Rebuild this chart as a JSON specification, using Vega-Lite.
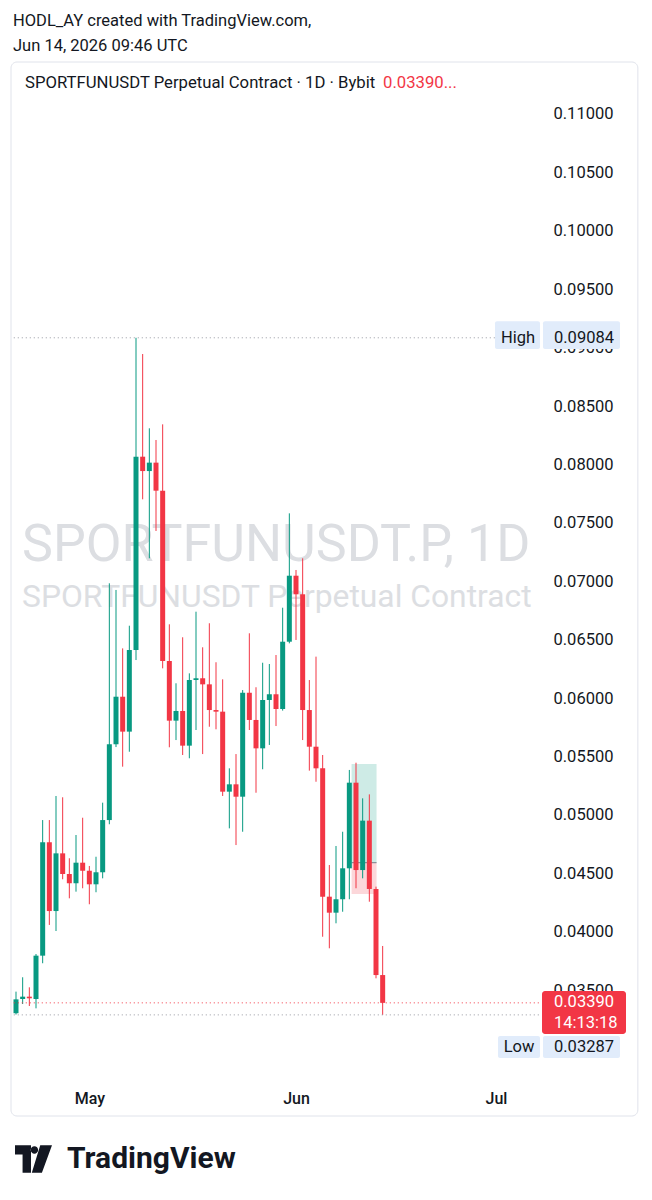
{
  "$schema": "https://vega.github.io/schema/vega-lite/v6.json",
  "width": 528,
  "height": 1018,
  "autosize": {"type": "none"},
  "padding": {"left": 12, "top": 62, "right": 112, "bottom": 120},
  "background": "#ffffff",
  "config": {"font": "Roboto", "view": {"stroke": null}},
  "title": {
    "text": ["HODL_AY created with TradingView.com,", "Jun 14, 2026 09:46 UTC"],
    "anchor": "start", "frame": "group", "fontSize": 16.5, "fontWeight": "normal",
    "color": "#131722", "lineHeight": 25, "offset": 9, "baseline": "bottom", "dx": 1, "dy": 18
  },
  "data": {
    "values": [
      {"t": "2026-04-20", "o": 0.03301, "h": 0.03486, "l": 0.0329, "c": 0.0342},
      {"t": "2026-04-21", "o": 0.03423, "h": 0.03609, "l": 0.0338, "c": 0.03443},
      {"t": "2026-04-22", "o": 0.03443, "h": 0.03523, "l": 0.03363, "c": 0.03429},
      {"t": "2026-04-23", "o": 0.03423, "h": 0.03808, "l": 0.03343, "c": 0.03794},
      {"t": "2026-04-24", "o": 0.03794, "h": 0.04955, "l": 0.03729, "c": 0.04765},
      {"t": "2026-04-25", "o": 0.04765, "h": 0.04955, "l": 0.04057, "c": 0.04176},
      {"t": "2026-04-26", "o": 0.04176, "h": 0.05161, "l": 0.04005, "c": 0.0467},
      {"t": "2026-04-27", "o": 0.0467, "h": 0.0515, "l": 0.04448, "c": 0.04493},
      {"t": "2026-04-28", "o": 0.04493, "h": 0.04628, "l": 0.04285, "c": 0.04414},
      {"t": "2026-04-29", "o": 0.04414, "h": 0.04827, "l": 0.04342, "c": 0.0459},
      {"t": "2026-04-30", "o": 0.0459, "h": 0.04975, "l": 0.04371, "c": 0.04521},
      {"t": "2026-05-01", "o": 0.04521, "h": 0.04562, "l": 0.04234, "c": 0.04405},
      {"t": "2026-05-02", "o": 0.04405, "h": 0.04641, "l": 0.04337, "c": 0.04508},
      {"t": "2026-05-03", "o": 0.04508, "h": 0.05104, "l": 0.04456, "c": 0.04955},
      {"t": "2026-05-04", "o": 0.04955, "h": 0.06982, "l": 0.04919, "c": 0.05604},
      {"t": "2026-05-05", "o": 0.05604, "h": 0.06925, "l": 0.0558, "c": 0.06011},
      {"t": "2026-05-06", "o": 0.06011, "h": 0.06425, "l": 0.05412, "c": 0.05712},
      {"t": "2026-05-07", "o": 0.05712, "h": 0.06619, "l": 0.0554, "c": 0.06411},
      {"t": "2026-05-08", "o": 0.06411, "h": 0.09084, "l": 0.06325, "c": 0.08066},
      {"t": "2026-05-09", "o": 0.08066, "h": 0.08945, "l": 0.07701, "c": 0.07943},
      {"t": "2026-05-10", "o": 0.07943, "h": 0.08309, "l": 0.07196, "c": 0.08015},
      {"t": "2026-05-11", "o": 0.08015, "h": 0.08209, "l": 0.0743, "c": 0.07775},
      {"t": "2026-05-12", "o": 0.07775, "h": 0.08343, "l": 0.06254, "c": 0.06317},
      {"t": "2026-05-13", "o": 0.06317, "h": 0.06631, "l": 0.05578, "c": 0.05806},
      {"t": "2026-05-14", "o": 0.05806, "h": 0.06126, "l": 0.0564, "c": 0.05889},
      {"t": "2026-05-15", "o": 0.05889, "h": 0.0652, "l": 0.05512, "c": 0.05592},
      {"t": "2026-05-16", "o": 0.05592, "h": 0.06211, "l": 0.05484, "c": 0.06154},
      {"t": "2026-05-17", "o": 0.06154, "h": 0.06739, "l": 0.05726, "c": 0.06169},
      {"t": "2026-05-18", "o": 0.06169, "h": 0.06434, "l": 0.0552, "c": 0.06117},
      {"t": "2026-05-19", "o": 0.06117, "h": 0.0664, "l": 0.05754, "c": 0.05897},
      {"t": "2026-05-20", "o": 0.05897, "h": 0.06306, "l": 0.05732, "c": 0.05883},
      {"t": "2026-05-21", "o": 0.05883, "h": 0.0616, "l": 0.05161, "c": 0.05198},
      {"t": "2026-05-22", "o": 0.05198, "h": 0.05398, "l": 0.04884, "c": 0.05261},
      {"t": "2026-05-23", "o": 0.05261, "h": 0.0552, "l": 0.04741, "c": 0.05155},
      {"t": "2026-05-24", "o": 0.05155, "h": 0.06068, "l": 0.04855, "c": 0.06045},
      {"t": "2026-05-25", "o": 0.06045, "h": 0.06554, "l": 0.05726, "c": 0.05812},
      {"t": "2026-05-26", "o": 0.05812, "h": 0.06092, "l": 0.05189, "c": 0.05569},
      {"t": "2026-05-27", "o": 0.05569, "h": 0.06302, "l": 0.0539, "c": 0.05983},
      {"t": "2026-05-28", "o": 0.05983, "h": 0.06291, "l": 0.05598, "c": 0.06032},
      {"t": "2026-05-29", "o": 0.06032, "h": 0.06368, "l": 0.0576, "c": 0.05906},
      {"t": "2026-05-30", "o": 0.05906, "h": 0.06773, "l": 0.05892, "c": 0.06482},
      {"t": "2026-05-31", "o": 0.06482, "h": 0.07581, "l": 0.06468, "c": 0.07047},
      {"t": "2026-06-01", "o": 0.07047, "h": 0.07096, "l": 0.06497, "c": 0.06888},
      {"t": "2026-06-02", "o": 0.06888, "h": 0.07196, "l": 0.0564, "c": 0.05897},
      {"t": "2026-06-03", "o": 0.05897, "h": 0.06154, "l": 0.05378, "c": 0.05583},
      {"t": "2026-06-04", "o": 0.05583, "h": 0.06354, "l": 0.05283, "c": 0.05398},
      {"t": "2026-06-05", "o": 0.05398, "h": 0.05512, "l": 0.03956, "c": 0.04299},
      {"t": "2026-06-06", "o": 0.04299, "h": 0.0457, "l": 0.03857, "c": 0.04162},
      {"t": "2026-06-07", "o": 0.04162, "h": 0.04733, "l": 0.04071, "c": 0.04277},
      {"t": "2026-06-08", "o": 0.04277, "h": 0.04855, "l": 0.0417, "c": 0.04542},
      {"t": "2026-06-09", "o": 0.04542, "h": 0.05384, "l": 0.04277, "c": 0.05275},
      {"t": "2026-06-10", "o": 0.05275, "h": 0.05446, "l": 0.04371, "c": 0.04527},
      {"t": "2026-06-11", "o": 0.04527, "h": 0.05141, "l": 0.04456, "c": 0.0495},
      {"t": "2026-06-12", "o": 0.0495, "h": 0.05175, "l": 0.04256, "c": 0.04365},
      {"t": "2026-06-13", "o": 0.04365, "h": 0.04385, "l": 0.036, "c": 0.03628},
      {"t": "2026-06-14", "o": 0.03628, "h": 0.03877, "l": 0.03287, "c": 0.0339}
    ],
    "format": {"parse": {"t": "date"}}
  },
  "encoding": {
    "x": {
      "field": "t", "type": "temporal",
      "scale": {"type": "utc", "nice": false, "padding": 0, "domain": [
        {"year": 2026, "month": 4, "date": 19, "hours": 9, "minutes": 36, "utc": true},
        {"year": 2026, "month": 7, "date": 7, "hours": 14, "minutes": 24, "utc": true}
      ]},
      "axis": {
        "values": [
          {"year": 2026, "month": 5, "date": 1, "utc": true},
          {"year": 2026, "month": 6, "date": 1, "utc": true},
          {"year": 2026, "month": 7, "date": 1, "utc": true}
        ],
        "labelExpr": "utcFormat(datum.value, '%b')",
        "ticks": false, "tickSize": 0, "domain": false, "grid": false,
        "labelPadding": 18, "labelBaseline": "middle", "labelFlush": false,
        "labelFontSize": 16, "labelFontWeight": 500, "labelColor": "#131722", "title": null
      }
    },
    "y": {
      "field": "l", "type": "quantitative", "title": null,
      "scale": {"domain": [0.027295, 0.114452], "zero": false, "nice": false, "padding": 0},
      "axis": {
        "orient": "right",
        "values": [0.035, 0.04, 0.045, 0.05, 0.055, 0.06, 0.065, 0.07, 0.075, 0.08, 0.085, 0.09, 0.095, 0.1, 0.105, 0.11],
        "format": ".5f", "ticks": false, "domain": false, "grid": false,
        "labelPadding": 13, "labelBaseline": "middle", "labelFontSize": 16.5,
        "labelColor": "#131722", "title": null, "labelOverlap": false
      }
    }
  },
  "layer": [
    {
      "data": {"values": [{"t": "2026-04-19T06:00:00Z", "t2": "2026-07-22T06:40:00Z", "p": 0.114452, "p2": 0.024212}], "format": {"parse": {"t": "date", "t2": "date"}}},
      "mark": {"type": "rect", "fillOpacity": 0, "fill": "#ffffff", "stroke": "#e0e3eb", "strokeWidth": 1, "cornerRadius": 6},
      "encoding": {
        "x2": {"field": "t2"},
        "y": {"field": "p", "type": "quantitative", "title": null},
        "y2": {"field": "p2"}
      }
    },
    {
      "data": {"values": [{"t": "2026-04-20T21:36:00Z", "p": 0.073099, "s": "SPORTFUNUSDT.P, 1D"}], "format": {"parse": {"t": "date"}}},
      "mark": {"type": "text", "align": "left", "baseline": "middle", "fontSize": 52, "color": "#dcdee2"},
      "encoding": {
        "y": {"field": "p", "type": "quantitative", "title": null},
        "text": {"field": "s"}
      }
    },
    {
      "data": {"values": [{"t": "2026-04-20T21:36:00Z", "p": 0.068647, "s": "SPORTFUNUSDT Perpetual Contract"}], "format": {"parse": {"t": "date"}}},
      "mark": {"type": "text", "align": "left", "baseline": "middle", "fontSize": 31.8, "color": "#dcdee2"},
      "encoding": {
        "y": {"field": "p", "type": "quantitative", "title": null},
        "text": {"field": "s"}
      }
    },
    {
      "data": {"values": [{"t": "2026-06-09T08:00:00Z", "t2": "2026-06-13T02:00:00Z", "p": 0.0459, "p2": 0.05435}], "format": {"parse": {"t": "date", "t2": "date"}}},
      "mark": {"type": "rect", "fill": "#089981", "fillOpacity": 0.2},
      "encoding": {
        "x2": {"field": "t2"},
        "y": {"field": "p", "type": "quantitative", "title": null},
        "y2": {"field": "p2"}
      }
    },
    {
      "data": {"values": [{"t": "2026-06-09T08:00:00Z", "t2": "2026-06-13T02:00:00Z", "p": 0.04322, "p2": 0.0459}], "format": {"parse": {"t": "date", "t2": "date"}}},
      "mark": {"type": "rect", "fill": "#f23645", "fillOpacity": 0.2},
      "encoding": {
        "x2": {"field": "t2"},
        "y": {"field": "p", "type": "quantitative", "title": null},
        "y2": {"field": "p2"}
      }
    },
    {
      "data": {"values": [{"t": "2026-06-09T08:00:00Z", "t2": "2026-06-13T02:00:00Z", "p": 0.0459}], "format": {"parse": {"t": "date", "t2": "date"}}},
      "mark": {"type": "rule", "color": "#787b86", "strokeWidth": 1},
      "encoding": {
        "x2": {"field": "t2"},
        "y": {"field": "p", "type": "quantitative", "title": null}
      }
    },
    {
      "mark": {"type": "rule", "strokeWidth": 1},
      "encoding": {
        "y2": {"field": "h"},
        "color": {"condition": {"test": "datum.c >= datum.o", "value": "#089981"}, "value": "#f23645"}
      }
    },
    {
      "mark": {"type": "bar", "size": 5},
      "encoding": {
        "y": {"field": "o", "type": "quantitative", "title": null},
        "y2": {"field": "c"},
        "color": {"condition": {"test": "datum.c >= datum.o", "value": "#089981"}, "value": "#f23645"}
      }
    },
    {
      "data": {"values": [{"t": "2026-04-19T16:00:00Z", "t2": "2026-06-30T20:00:00Z", "p": 0.09084}, {"t": "2026-04-19T16:00:00Z", "t2": "2026-07-07T14:00:00Z", "p": 0.03287}], "format": {"parse": {"t": "date", "t2": "date"}}},
      "mark": {"type": "rule", "color": "#9598a1", "strokeWidth": 1, "strokeDash": [1, 3]},
      "encoding": {
        "x2": {"field": "t2"},
        "y": {"field": "p", "type": "quantitative", "title": null}
      }
    },
    {
      "data": {"values": [{"t": "2026-04-19T16:00:00Z", "t2": "2026-07-07T14:00:00Z", "p": 0.0339}], "format": {"parse": {"t": "date", "t2": "date"}}},
      "mark": {"type": "rule", "color": "#f23645", "strokeWidth": 1, "strokeDash": [1, 3]},
      "encoding": {
        "x2": {"field": "t2"},
        "y": {"field": "p", "type": "quantitative", "title": null}
      }
    },
    {
      "data": {"values": [
        {"t": "2026-06-30T20:24:00Z", "t2": "2026-07-07T14:24:00Z", "p": 0.08988, "p2": 0.092264},
        {"t": "2026-07-08T01:12:00Z", "t2": "2026-07-19T14:24:00Z", "p": 0.08988, "p2": 0.092264},
        {"t": "2026-07-01T07:12:00Z", "t2": "2026-07-07T14:24:00Z", "p": 0.029178, "p2": 0.031062},
        {"t": "2026-07-08T01:12:00Z", "t2": "2026-07-19T14:24:00Z", "p": 0.029178, "p2": 0.031062}
      ], "format": {"parse": {"t": "date", "t2": "date"}}},
      "mark": {"type": "rect", "fill": "#e1ecfb", "cornerRadius": 2},
      "encoding": {
        "x2": {"field": "t2"},
        "y": {"field": "p", "type": "quantitative", "title": null},
        "y2": {"field": "p2"}
      }
    },
    {
      "data": {"values": [{"t": "2026-07-07T21:36:00Z", "t2": "2026-07-20T12:00:00Z", "p": 0.031233, "p2": 0.034914}], "format": {"parse": {"t": "date", "t2": "date"}}},
      "mark": {"type": "rect", "fill": "#f23645", "cornerRadius": 3},
      "encoding": {
        "x2": {"field": "t2"},
        "y": {"field": "p", "type": "quantitative", "title": null},
        "y2": {"field": "p2"}
      }
    },
    {
      "data": {"values": [
        {"t": "2026-07-04T07:12:00Z", "p": 0.09084, "s": "High"},
        {"t": "2026-07-04T10:48:00Z", "p": 0.03012, "s": "Low"}
      ], "format": {"parse": {"t": "date"}}},
      "mark": {"type": "text", "align": "center", "baseline": "middle", "fontSize": 16.5, "color": "#131722"},
      "encoding": {
        "y": {"field": "p", "type": "quantitative", "title": null},
        "text": {"field": "s"}
      }
    },
    {
      "data": {"values": [
        {"t": "2026-07-09T16:48:00Z", "p": 0.09084, "s": "0.09084"},
        {"t": "2026-07-09T16:48:00Z", "p": 0.03012, "s": "0.03287"}
      ], "format": {"parse": {"t": "date"}}},
      "mark": {"type": "text", "align": "left", "baseline": "middle", "fontSize": 16.5, "color": "#131722"},
      "encoding": {
        "y": {"field": "p", "type": "quantitative", "title": null},
        "text": {"field": "s"}
      }
    },
    {
      "data": {"values": [
        {"t": "2026-07-09T16:48:00Z", "p": 0.033973, "s": "0.03390"},
        {"t": "2026-07-09T16:48:00Z", "p": 0.032175, "s": "14:13:18"}
      ], "format": {"parse": {"t": "date"}}},
      "mark": {"type": "text", "align": "left", "baseline": "middle", "fontSize": 16.5, "color": "#ffffff"},
      "encoding": {
        "y": {"field": "p", "type": "quantitative", "title": null},
        "text": {"field": "s"}
      }
    },
    {
      "data": {"values": [{"t": "2026-04-21T08:24:00Z", "p": 0.112654, "s": "SPORTFUNUSDT Perpetual Contract · 1D · Bybit"}], "format": {"parse": {"t": "date"}}},
      "mark": {"type": "text", "align": "left", "baseline": "middle", "fontSize": 16.7, "color": "#131722"},
      "encoding": {
        "y": {"field": "p", "type": "quantitative", "title": null},
        "text": {"field": "s"}
      }
    },
    {
      "data": {"values": [{"t": "2026-06-14T01:12:00Z", "p": 0.112654, "s": "0.03390..."}], "format": {"parse": {"t": "date"}}},
      "mark": {"type": "text", "align": "left", "baseline": "middle", "fontSize": 16.7, "color": "#f23645"},
      "encoding": {
        "y": {"field": "p", "type": "quantitative", "title": null},
        "text": {"field": "s"}
      }
    },
    {
      "data": {"values": [{"t": "2026-04-22T15:00:00Z", "p": 0.020531}], "format": {"parse": {"t": "date"}}},
      "mark": {
        "type": "point", "filled": true, "color": "#131722", "opacity": 1, "size": 1369, "strokeWidth": 0,
        "shape": "M-1,-0.739H-0.136V0.739H-0.591V-0.239H-1Z M-0.15,-0.489A0.2,0.2 0 1 0 0.25,-0.489A0.2,0.2 0 1 0 -0.15,-0.489Z M0.364,-0.739H1L0.455,0.739H-0.091Z"
      },
      "encoding": {
        "y": {"field": "p", "type": "quantitative", "title": null}
      }
    },
    {
      "data": {"values": [{"t": "2026-04-27T15:36:00Z", "p": 0.020531, "s": "TradingView"}], "format": {"parse": {"t": "date"}}},
      "mark": {"type": "text", "align": "left", "baseline": "middle", "fontSize": 30, "fontWeight": "bold", "color": "#131722"},
      "encoding": {
        "y": {"field": "p", "type": "quantitative", "title": null},
        "text": {"field": "s"}
      }
    }
  ]
}
